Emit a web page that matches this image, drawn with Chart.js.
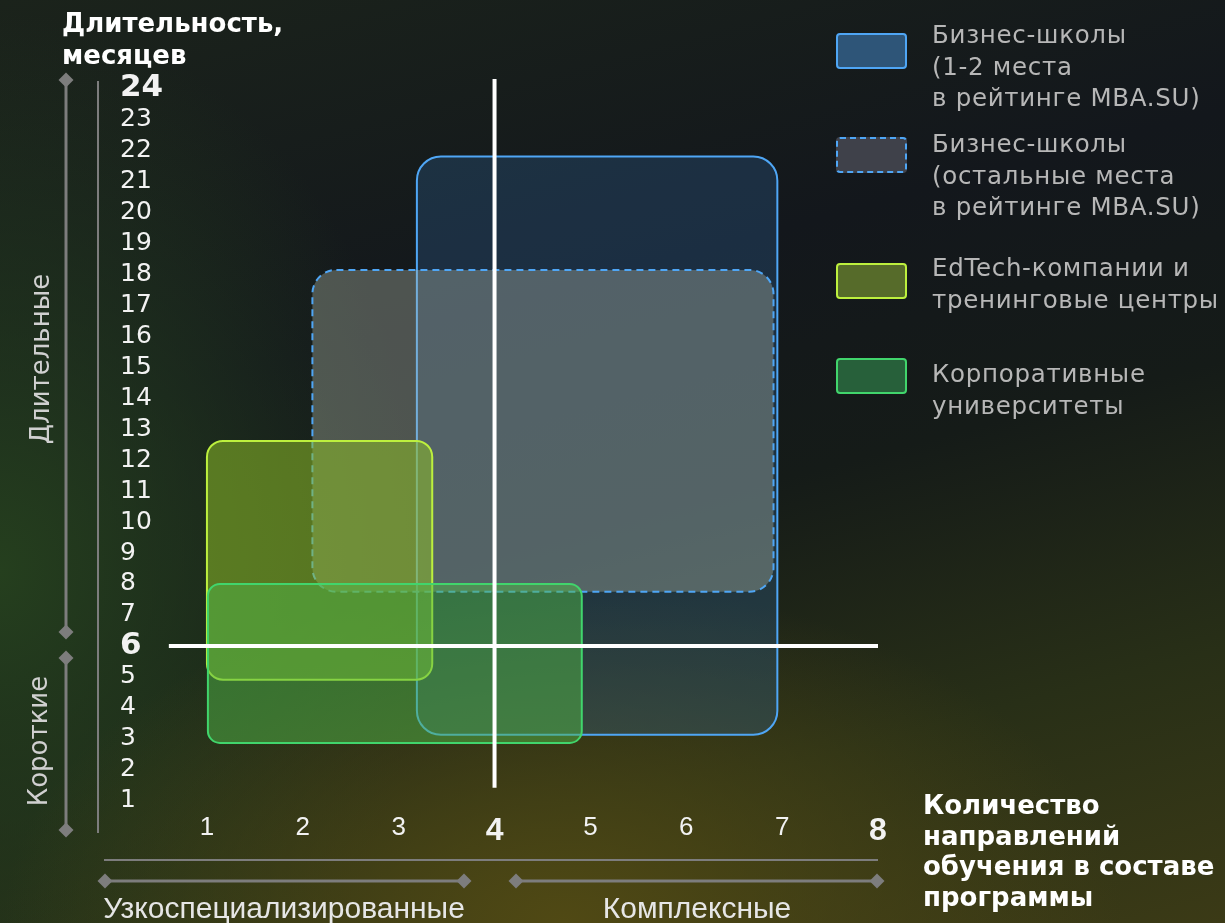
<!DOCTYPE html>
<html lang="ru">
<head>
<meta charset="utf-8">
<title>Длительность и количество направлений обучения</title>
<script src="https://cdn.jsdelivr.net/npm/chart.js@4.4.1/dist/chart.umd.min.js"></script>
<style>
  html, body { margin: 0; padding: 0; }
  body {
    width: 1225px; height: 923px; overflow: hidden; position: relative;
    font-family: "DejaVu Sans", Verdana, sans-serif;
    background:
      radial-gradient(ellipse 560px 340px at 46% 100%, rgba(80,73,20,1) 0%, rgba(80,73,20,0) 100%),
      radial-gradient(ellipse 430px 560px at 0% 62%, rgba(37,63,30,1) 0%, rgba(37,63,30,0) 100%),
      linear-gradient(165deg, #1b231b 0%, #13171c 35%, #151b18 55%, #282f17 78%, #3b3a16 100%);
  }
  canvas { position: absolute; left: 0; top: 0; }
  .t { position: absolute; white-space: nowrap; }
  .title { color: #fff; font-weight: bold; font-size: 26px; line-height: 32px; }
  .side { color: #d0d0d0; font-size: 26px; transform: translate(-50%, -50%) rotate(-90deg); }
  .under { color: #e6e6e6; font-family: "Liberation Sans", Arial, sans-serif; font-size: 30px; transform: translate(-50%, -50%); }
  .lg-box { position: absolute; width: 67px; height: 32px; border-radius: 4px; border-width: 2px; border-style: solid; }
  .lg-txt { position: absolute; color: #b7b7b7; font-size: 24.5px; line-height: 31.5px; letter-spacing: 0.7px; white-space: nowrap; }
</style>
</head>
<body>
<canvas id="c" width="1225" height="923"></canvas>
<div class="t title" style="left:62px; top:7px;">Длительность,<br>месяцев</div>
<div class="t side" style="left:40px; top:359px;">Длительные</div>
<div class="t side" style="left:38px; top:741px;">Короткие</div>
<div class="t under" style="left:284px; top:908px;">Узкоспециализированные</div>
<div class="t under" style="left:697px; top:908px;">Комплексные</div>
<div class="t title" style="left:923px; top:790px; line-height:30.5px;">Количество<br>направлений<br>обучения в составе<br>программы</div>
<div id="legend"></div>
<script>
// program groups and the ranges they cover
const groups = [
  "Бизнес-школы\n(1-2 места\nв рейтинге MBA.SU)",
  "Бизнес-школы\n(остальные места\nв рейтинге MBA.SU)",
  "EdTech-компании и\nтренинговые центры",
  "Корпоративные\nуниверситеты"
];
const dirFrom = [3.19, 2.10, 1.00, 1.01];   // количество направлений, от
const dirTo   = [6.95, 6.91, 3.35, 4.91];   // до
const monFrom = [3.13, 7.75, 4.91, 2.87];   // длительность, месяцев, от
const monTo   = [21.8, 18.14, 12.62, 8.0];  // до

const xTicks = [1, 2, 3, 4, 5, 6, 7, 8];
const yTicks = [1, 2, 3, 4, 5, 6, 7, 8, 9, 10, 11, 12, 13, 14, 15, 16, 17, 18, 19, 20, 21, 22, 23, 24];
const xBold = [4, 8];
const yBold = [6, 24];
const xSplit = 4, ySplit = 6;
const vLineSpan = [1.42, 24.3];
const hLineSpan = [0.6, 8];

const looks = [
  { fill: "rgba(50,115,180,0.25)", border: "#4fa6f5", dash: [], radius: 24, swFill: "#2e5578" },
  { fill: "rgba(180,186,170,0.37)", border: "#4fa6f5", dash: [7, 5], radius: 24, swFill: "#3f414a" },
  { fill: "rgba(140,188,40,0.55)", border: "#bdf03e", dash: [], radius: 16, swFill: "#566b2a" },
  { fill: "rgba(80,182,72,0.5)", border: "#41d56c", dash: [], radius: 12, swFill: "#27603a" }
];
const legendPos = [{ box: 33, txt: 19 }, { box: 137, txt: 128 }, { box: 263, txt: 252 }, { box: 358, txt: 358 }];

// legend as html
const lg = document.getElementById("legend");
groups.forEach((g, i) => {
  const b = document.createElement("div");
  b.className = "lg-box";
  b.style.cssText = `left:836px; top:${legendPos[i].box}px; background:${looks[i].swFill}; border-color:${looks[i].border}; border-style:${looks[i].dash.length ? "dashed" : "solid"};`;
  const t = document.createElement("div");
  t.className = "lg-txt";
  t.style.cssText = `left:932px; top:${legendPos[i].txt}px;`;
  t.innerHTML = g.split("\n").join("<br>");
  lg.appendChild(b); lg.appendChild(t);
});

// range boxes drawn under the split lines
const ranges = {
  id: "ranges",
  beforeDatasetsDraw(chart) {
    const { ctx, scales: { x, y } } = chart;
    groups.forEach((g, i) => {
      const l = x.getPixelForValue(dirFrom[i]), r = x.getPixelForValue(dirTo[i]);
      const t = y.getPixelForValue(monTo[i]), b = y.getPixelForValue(monFrom[i]);
      ctx.save();
      ctx.beginPath();
      ctx.roundRect(l, t, r - l, b - t, looks[i].radius);
      ctx.fillStyle = looks[i].fill;
      ctx.fill();
      ctx.setLineDash(looks[i].dash);
      ctx.lineWidth = 2;
      ctx.strokeStyle = looks[i].border;
      ctx.stroke();
      ctx.restore();
    });
  }
};

// grey brackets along the axes
const brackets = {
  id: "brackets",
  beforeDraw(chart) {
    const { ctx, scales: { y } } = chart;
    const y6 = y.getPixelForValue(ySplit);
    const gray = "#7d7d7d";
    const seg = (x1, y1, x2, y2, w) => { ctx.beginPath(); ctx.moveTo(x1, y1); ctx.lineTo(x2, y2); ctx.lineWidth = w; ctx.strokeStyle = gray; ctx.stroke(); };
    const dia = (cx, cy) => { ctx.beginPath(); ctx.moveTo(cx, cy - 7.5); ctx.lineTo(cx + 7.5, cy); ctx.lineTo(cx, cy + 7.5); ctx.lineTo(cx - 7.5, cy); ctx.closePath(); ctx.fillStyle = gray; ctx.fill(); };
    ctx.save();
    seg(66, 80, 66, y6 - 14, 3); dia(66, 80); dia(66, y6 - 14);
    seg(66, y6 + 12, 66, 830, 3); dia(66, y6 + 12); dia(66, 830);
    seg(98, 81, 98, 833, 2);
    seg(104, 860, 878, 860, 2);
    seg(105, 881, 464, 881, 3); dia(105, 881); dia(464, 881);
    seg(516, 881, 877, 881, 3); dia(516, 881); dia(877, 881);
    ctx.restore();
  }
};

new Chart(document.getElementById("c"), {
  type: "scatter",
  data: {
    datasets: [
      { data: [{ x: xSplit, y: vLineSpan[0] }, { x: xSplit, y: vLineSpan[1] }], showLine: true, borderColor: "#ffffff", borderWidth: 4, pointRadius: 0 },
      { data: [{ x: hLineSpan[0], y: ySplit }, { x: hLineSpan[1], y: ySplit }], showLine: true, borderColor: "#ffffff", borderWidth: 4, pointRadius: 0 }
    ]
  },
  options: {
    responsive: false, animation: false, events: [],
    layout: { padding: { left: 120, right: 347, top: 76, bottom: 76 } },
    plugins: { legend: { display: false }, tooltip: { enabled: false } },
    scales: {
      x: {
        type: "linear", min: 0.6, max: 8,
        border: { display: false }, grid: { display: false, drawTicks: false },
        afterBuildTicks: (s) => { s.ticks = xTicks.map((v) => ({ value: v })); },
        afterFit: (s) => { s.height = 40; },
        ticks: {
          color: "#f2f2f2", padding: 5, maxRotation: 0, autoSkip: false,
          callback: (v) => String(v),
          font: (c) => ({ family: "'Liberation Sans', Arial, sans-serif", size: xBold.includes(c.tick && c.tick.value) ? 32 : 26, weight: xBold.includes(c.tick && c.tick.value) ? "bold" : "normal" })
        }
      },
      y: {
        type: "linear", min: 0.8, max: 24.4,
        border: { display: false }, grid: { display: false, drawTicks: false },
        afterBuildTicks: (s) => { s.ticks = yTicks.map((v) => ({ value: v })); },
        afterFit: (s) => { s.width = 48.6; },
        ticks: {
          color: "#f2f2f2", crossAlign: "far", autoSkip: false,
          callback: (v) => String(v),
          font: (c) => ({ family: "'DejaVu Sans', Verdana, sans-serif", size: yBold.includes(c.tick && c.tick.value) ? 31 : 25, weight: yBold.includes(c.tick && c.tick.value) ? "bold" : "normal", lineHeight: 1 })
        }
      }
    }
  },
  plugins: [brackets, ranges]
});
</script>
</body>
</html>
